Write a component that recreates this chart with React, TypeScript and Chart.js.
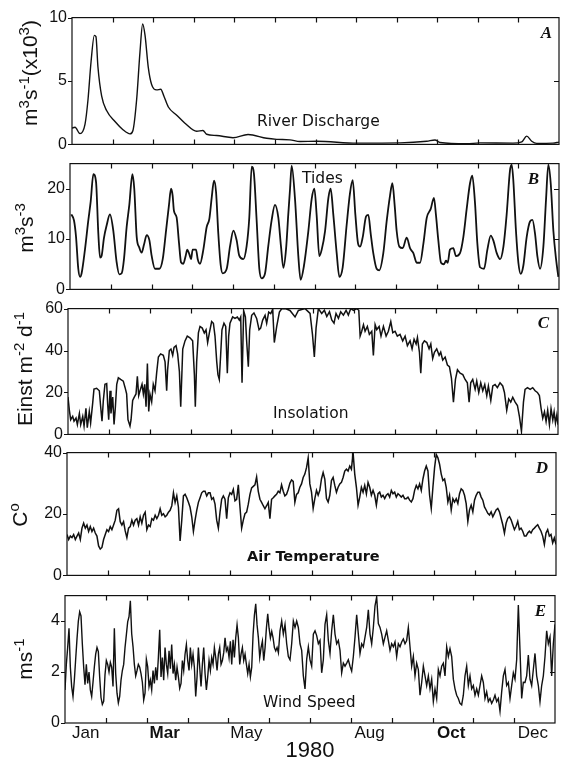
import React, { useEffect, useRef } from 'react';
import { Chart, registerables } from 'chart.js';

Chart.register(...registerables);

// ---------- axis data ----------
const monthTickDays = [30.5, 61, 91.5, 122, 152.5, 183, 213.5, 244, 274.5, 305, 335.5];
const monthLabels = ['Jan', 'Mar', 'May', 'Aug', 'Oct', 'Dec'];
const monthLabelDays = [15.5, 74.5, 135.5, 227.5, 288.5, 349.5];
const monthLabelBold = [false, true, false, false, true, false];
const yearLabel = '1980';

// ---------- A: river discharge (m3 s-1 x 10^3) ----------
const riverDays = [0, 2.3, 6, 9.8, 12, 14.3, 16.8, 18, 19.5, 22.3, 26, 32.3, 38.3, 43.6, 45.8, 48.6, 51.1, 53.1, 54.9, 57.3, 59.9, 63.6, 66.7, 69.1, 72.4, 78.7, 84.9, 93.7, 98.4, 101.2, 108.7, 121, 132.3, 146.3, 153.8, 163.8, 171.3, 184, 214, 246.5, 266.6, 272.8, 276.6, 296.6, 306.6, 331.4, 338, 341.7, 345.5, 349.2, 361.5, 366];
const riverValues = [1.29, 1.35, 0.85, 1.6, 3.5, 6.5, 8.6, 8.5, 6.1, 3.8, 2.67, 1.8, 1.16, 0.83, 1.1, 3.56, 7.3, 9.5, 8.6, 6.1, 4.7, 4.3, 4.35, 3.8, 2.95, 2.3, 1.67, 1.04, 1.1, 0.8, 0.7, 0.53, 0.78, 0.48, 0.4, 0.36, 0.23, 0.25, 0.1, 0.12, 0.25, 0.35, 0.15, 0.05, 0.12, 0.1, 0.2, 0.65, 0.25, 0.08, 0.1, 0.18];

// ---------- B: tides (m3 s-3) ----------
const tideDays = [1, 3.0, 4.5, 6.2, 7.5, 8.7, 11.2, 13.7, 15.5, 17.5,
  19.5, 21.2, 22.5, 23.7, 25.4, 27.4, 29.9, 32.4, 34.9, 36.9,
  38.7, 40.4, 42.4, 44.4, 46.7, 48.1, 49.9, 51.9, 53.6, 55.4,
  57.4, 59.4, 61.1, 63.6, 66.9, 69.4, 71.9, 74.1, 75.6, 76.8,
  77.8, 79.8, 81.6, 83.1, 84.8, 86.6, 87.8, 89.3, 90.6, 91.8,
  94.3, 95.6, 97.3, 99.8, 102.3, 104.3, 106.0, 107.8, 109.3, 111.0,
  112.8, 114.3, 117.3, 119.8, 122.3, 124.7, 126.7, 129.7, 132.2, 134.2,
  136.0, 137.7, 139.7, 141.7, 143.5, 146.0, 148.4, 150.9, 153.4, 155.9,
  157.9, 159.7, 161.7, 163.4, 164.7, 165.9, 168.4, 170.9, 172.6, 175.1,
  178.4, 180.9, 182.9, 184.6, 186.6, 188.4, 190.9, 193.4, 195.1, 197.1,
  199.6, 201.6, 204.1, 207.1, 209.6, 211.6, 213.6, 215.6, 217.1, 219.1,
  221.6, 223.3, 225.1, 227.0, 229.5, 231.5, 234.5, 237.0, 239.5, 241.3,
  243.0, 244.5, 246.5, 249.0, 252.0, 254.5, 257.0, 259.5, 262.0, 264.5,
  267.0, 270.0, 272.4, 273.9, 275.7, 277.7, 279.9, 281.4, 282.7, 284.4,
  286.9, 288.9, 291.9, 294.4, 296.9, 299.4, 301.1, 303.1, 304.9, 306.9,
  309.9, 312.4, 314.9, 316.9, 319.4, 321.9, 324.4, 326.8, 329.3, 330.6,
  331.8, 333.8, 335.6, 337.3, 339.3, 341.8, 344.3, 346.1, 348.1, 349.8,
  351.8, 354.3, 356.3, 358.0, 359.8, 361.8, 363.8, 365.5];
const tideValues = [14.9, 13.7, 10.5, 4.1, 2.5, 3.2, 7.9, 13.7, 17.5, 22.9,
  21.3, 11.1, 6.3, 6.7, 10.2, 12.7, 14.9, 11.7, 5.4, 3.0,
  3.2, 6.0, 12.4, 16.8, 22.9, 20, 10.5, 8.3, 7.3, 8.9,
  10.8, 9.8, 6.7, 4.1, 4.1, 6.0, 11.7, 16.8, 20, 18.7,
  15.6, 14.3, 9.2, 5.4, 5.1, 6.7, 7.9, 7.0, 6.0, 7.9,
  7.9, 6.0, 5.1, 7.9, 12.4, 14.0, 18.1, 21.6, 19.4, 11.1,
  4.8, 3.2, 4.1, 8.6, 11.7, 9.8, 6.7, 6.0, 8.6, 14.3,
  24.4, 22.9, 13.7, 4.1, 2.2, 3.2, 8.6, 13.7, 16.8, 14.3,
  8.6, 4.3, 8, 15, 20, 24.6, 18, 6.6, 1.9, 4.7,
  11.6, 18, 20, 14.8, 6.6, 7.9, 11.6, 18.2, 20, 14.8,
  7.2, 2.5, 4.4, 12.9, 19.2, 21.7, 14.8, 9.1, 8.5, 10.4,
  14.5, 14.8, 11, 7.2, 4.1, 3.8, 7.2, 13.5, 18.6, 21.1,
  16.7, 11.6, 8.5, 8.2, 10.3, 8.2, 7.2, 5.3, 5.3, 9.1,
  14.2, 16, 18.2, 14.8, 9.7, 5.3, 5, 5.7, 5.3, 7.9,
  8.2, 6.6, 7.2, 10.4, 16, 21.1, 22.6, 17.3, 9.1, 4.4,
  4.1, 7.9, 10.7, 9.7, 7.2, 6, 8.5, 14.8, 23.6, 24.8,
  21.7, 11.6, 5.3, 3.1, 4.7, 10.4, 13.5, 13.8, 11, 6.6,
  4.1, 8.5, 17.9, 24.8, 21.1, 11.6, 6, 2.5];

// ---------- C: insolation (Einst m-2 d-1) ----------
const insolationDays = [0, 1, 2, 3.5, 4.5, 6, 7, 8.5, 9.5, 11,
  12, 13.4, 14.4, 15.9, 16.9, 18.4, 19.4, 21.4, 23.4, 24.4,
  25.4, 26.4, 27.6, 28.9, 29.6, 30.4, 31.4, 32.1, 33.4, 34.4,
  35.4, 36.4, 37.6, 39.3, 41.3, 42.6, 43.8, 44.8, 46.3, 47.1,
  48.3, 49.5, 50.8, 51.8, 52.8, 53.8, 55.3, 56.3, 57.3, 58.3,
  59.3, 60.3, 61.2, 62.5, 63.7, 65, 66.2, 67.5, 69.2, 71.2,
  72.5, 73.7, 74.4, 75.7, 76.9, 78.2, 79.2, 80.7, 81.9, 83.2,
  84.2, 85.7, 87.4, 89.1, 91.1, 93.1, 94.4, 95.1, 96.1, 97.4,
  98.6, 100.3, 101.8, 103.1, 104.3, 105.6, 107.3, 108.6, 109.8, 111.1,
  112, 113, 114, 115, 116.5, 117.8, 119, 120, 121, 123,
  124.7, 126.5, 128, 129, 130, 131.2, 132.5, 133.5, 134.7, 135.7,
  137.2, 138.9, 140.9, 142.7, 143.9, 145.4, 147.2, 148.4, 149.9, 151.4,
  152.9, 154.1, 155.9, 157.9, 159.6, 162.8, 165.8, 169.6, 172.1,
  177.1, 180.8, 182.6, 184, 185.3, 187, 189.5, 191.5, 193.3, 195.3,
  197, 198.7, 200.2, 202, 203.7, 205.7, 207.7, 209.4, 211.2, 213.2,
  215.7, 217.2, 218.2, 219.4, 220.7, 221.9, 223.6, 225.1, 226.9, 228.1,
  229.4, 230.6, 232.4, 233.8, 235.6, 237.6, 239.3, 241.1, 242.6, 244.3,
  246, 248, 250, 251.8, 253.5, 255.5, 257, 258.5, 260, 261,
  262.5, 263.5, 264.7, 266.2, 268, 269.7, 271, 272.4, 273.7, 275.4,
  277.2, 278.4, 279.9, 281.7, 283.4, 284.9, 286.4, 287.9, 289.4, 290.9,
  292.9, 294.9, 296.6, 298.3, 299.6, 300.8, 302.3, 304.1, 305.3, 306.8,
  308.3, 309.8, 311.3, 312.8, 314, 315.8, 317.3, 319, 320.7, 322.7,
  324.7, 326, 327.7, 329.2, 330.7, 332.2, 334, 335.7, 337.2, 338.7,
  340.2, 341.4, 343.2, 345.2, 347.1, 348.9, 350.6, 352.1, 353.4, 354.6,
  355.9, 357.1, 358.3, 359.6, 360.8, 362.1, 363.1, 364.1, 365.1, 366];
const insolationValues = [17.8, 11.6, 7, 8.6, 6.3, 7.8, 4.7, 10, 4.7, 8.6,
  4, 12.4, 3.2, 10.9, 5.5, 14.7, 21.6, 22, 20.8, 13.2,
  6.3, 16.2, 23.9, 24.2, 14.7, 7, 20.8, 10, 17.8, 4.7,
  13.2, 23.9, 27, 26.2, 25.4, 22.4, 19.3, 7, 4, 7,
  16.2, 17.8, 19.3, 27.7, 18.5, 20.8, 23.9, 19.3, 23.9, 13.2,
  33.8, 10.9, 19.3, 15.5, 23.9, 20.8, 29.2, 36.9, 38.4, 37.7,
  34.6, 20.8, 30.8, 40, 40.7, 37.7, 41.5, 42.3, 38.4, 30,
  13.2, 40.7, 44.6, 46.9, 46.1, 44.6, 28.5, 13.2, 34.6, 48.4,
  51.5, 50.7, 48.4, 49.9, 43.8, 48.4, 53.8, 53, 46.9, 34.6,
  28.5, 26.2, 37.7, 49.9, 53, 51.5, 29.2, 46.9, 53, 56,
  55.3, 56, 54.5, 56, 24.7, 59, 56, 43.8, 32.3, 49.9,
  56.8, 57.9, 55.3, 49.9, 50.7, 54.5, 56.8, 53, 58.3, 57.6,
  59.6, 43.8, 51.5, 58.3, 59.9, 59.9, 59.1, 56, 59.1,
  60, 57.7, 47.7, 36.9, 50.8, 60, 57.7, 59.2, 56.2, 58.5,
  54.6, 53.1, 57.7, 55.4, 58.5, 56.9, 59.2, 56.9, 60, 59.2,
  60, 59.2, 46.9, 49.2, 52.3, 49.2, 51.5, 47.7, 49.2, 37.7,
  52.3, 50, 51.5, 46.9, 51.5, 46.9, 49.2, 53.8, 48.5, 49.2,
  46.9, 47.7, 44.6, 46.9, 42.3, 44.6, 40.8, 45.4, 43.1, 46.2,
  39.2, 29.2, 43.1, 44.6, 43.8, 40.8, 43.1, 36.2, 39.2, 40.8,
  37.7, 39.2, 35.4, 36.9, 33.1, 32.3, 26.9, 15.4, 26.2, 30.8,
  29.2, 28.5, 26.2, 24.6, 15.4, 24.6, 26.2, 21.5, 25.4, 20,
  24.6, 20.8, 23.8, 18.5, 23.1, 16.2, 23.1, 23.8, 22.3, 24.6,
  23.1, 20, 11.5, 16.9, 15.4, 17.7, 15.4, 13.8, 8.5, 1.5,
  15.4, 21.5, 22.3, 21.5, 22.3, 20.8, 20, 18.5, 12.3, 7.7,
  10.8, 6.2, 11.5, 4.6, 12.3, 6.9, 10.8, 5.4, 9.2, 4.6];

// ---------- D: air temperature (C), evenly spaced through the year ----------
const airTempValues = [13.3, 11.7, 12.8, 12.3, 13.3, 11.7, 12.8, 13.8, 11.7, 15.4,
  17, 15.4, 16.4, 14.3, 15.9, 14.3, 15.4, 13.8, 12.8, 9.6,
  8.6, 9.1, 11.7, 13.3, 14.9, 14.3, 15.9, 14.9, 16.4, 18,
  21.2, 21.7, 17.5, 16.4, 17.5, 14.5, 12.3, 15.4, 15.9, 18,
  16.4, 18, 18.5, 16.4, 19.1, 17, 19.6, 20.6, 14.9, 16.4,
  15.9, 18.5, 18, 19.6, 18.5, 19.6, 21.7, 19.6, 20.1, 19.1,
  19.6, 20.6, 21.2, 22.7, 26.9, 23.8, 25.9, 22.2, 11.2, 18,
  25.9, 26.4, 25.3, 23.8, 22.2, 19.1, 14.3, 18, 21.2, 23.8,
  25.3, 26.9, 27.4, 27.4, 25.9, 26.9, 26.9, 24.8, 25.3, 23.2,
  18, 15.4, 20.6, 24.8, 25.9, 24.8, 18.5, 25.3, 26.9, 26.4,
  28, 24.3, 24.8, 29.5, 22.2, 15.4, 18, 20.1, 20.6, 23.2,
  26.4, 28.5, 29, 29.5, 32.1, 27.4, 24.8, 23.8, 22.7, 21.7,
  22.7, 23.8, 18.5, 24.8, 25.3, 25.9, 26.4, 27.4, 26.9, 29.5,
  27.4, 25.9, 26.4, 28, 30, 31.1, 30.6, 23.8, 26.4, 26.9,
  28.7, 29.8, 31.9, 33, 35.1, 38.3, 29.8, 27.1, 21.8, 25,
  27.7, 26.1, 27.7, 31.4, 33.5, 31.4, 25, 23.9, 26.1, 30.9,
  31.9, 29.3, 27.1, 28.7, 29.8, 30.3, 31.9, 34, 34.6, 34,
  35.6, 34.6, 40, 33, 28.7, 22.9, 25.5, 28.7, 27.1, 29.3,
  26.6, 30.3, 28.7, 26.1, 27.7, 26.1, 22.9, 26.6, 27.1, 25.5,
  26.1, 25, 26.1, 26.6, 25.5, 27.7, 26.6, 27.1, 25.5, 26.6,
  26.1, 25.5, 26.1, 25, 25, 25.5, 24.5, 23.9, 25, 27.7,
  29.3, 28.2, 29.8, 27.7, 31.4, 34, 35.6, 34, 26.1, 21.8,
  28.7, 35.1, 39.4, 38.3, 36.2, 33, 30.9, 31.4, 28.7, 23.9,
  26.1, 21.3, 25, 23.9, 25, 23.4, 26.6, 28.2, 27.7, 26.1,
  23.4, 17.6, 21.3, 22.9, 20.7, 24.5, 26.1, 27.1, 27.1, 25.5,
  24.5, 22.3, 21.3, 20.2, 19.7, 20.7, 19.1, 20.2, 21.3, 21.8,
  20.7, 18.6, 16.5, 13.8, 17, 18.6, 19.1, 18.1, 16.5, 14.9,
  16, 17.6, 14.9, 15.4, 14.4, 12.8, 12.8, 13.8, 14.4, 13.8,
  14.9, 15.4, 16, 16.5, 15.4, 14.4, 12.8, 10.1, 13.8, 14.9,
  12.8, 13.3, 10.6, 12.2, 10.1];

// ---------- E: wind speed (m s-1) ----------
// about one value per day, 1 Jan to early June
const windValuesJanJun = [1.3, 2.3, 2.96, 3.72, 2.2, 1.43, 1.04, 1.68, 2.5, 3.3,
  4.0, 4.36, 4.2, 3.1, 2.2, 1.5, 2.3, 1.55, 2.0, 1.3,
  1.04, 1.6, 2.2, 2.7, 2.96, 2.8, 1.8, 1.0, 0.73, 0.85,
  1.9, 2.45, 2.3, 2.0, 2.38, 2.19, 1.43, 3.72, 1.94, 1.17,
  0.79, 1.04, 1.68, 2.06, 2.3, 2.96, 3.46, 3.97, 4.17, 4.8,
  3.5, 3.0, 2.3, 1.85, 2.06, 2.3, 2.19, 1.94, 1.6, 0.9,
  1.17, 2.5, 2.2, 1.43, 1.68, 1.3, 2.06, 1.55, 2.19, 1.68,
  2.57, 3.66, 1.81, 2.57, 1.68, 2.96, 2.3, 1.94, 2.83, 2.13,
  3.08, 1.94, 2.3, 1.68, 2.19, 1.81, 1.36, 1.55, 2.45, 2.06,
  2.7, 3.08, 2.45, 2.06, 2.96, 2.3, 2.7, 2.19, 1.04, 1.81,
  2.96, 2.19, 1.43, 2.3, 2.96, 1.94, 1.3, 1.81, 2.45, 2.06,
  2.57, 2.3, 2.96, 2.57, 2.06, 2.7, 2.96, 2.3, 2.45, 2.76,
  3.34, 2.83, 2.96, 2.57, 3.21, 2.3, 3.27, 2.57, 3.34, 3.85,
  3.34, 2.3, 2.7, 2.96, 2.45, 2.7, 2.3, 1.94, 2.3, 1.81,
  2.19, 3.46, 4.23, 4.68, 3.85, 3.34, 2.57, 2.96, 3.21, 2.45,
  2.96, 3.72, 4.29, 3.72, 3.34, 3.59, 3.34, 2.96, 2.83, 2.96,
  2.76];
// early June to 31 Dec
const windValuesJunDec = [3.62, 4.0, 3.49, 3.87, 3.11, 2.61, 2.48, 3.11, 4.0, 3.75,
  4.0, 3.75, 3.11, 2.85, 1.85, 1.34, 2.5, 2.99, 2.48, 2.23,
  3.49, 3.62, 3.43, 3.11, 3.24, 1.97, 2.48, 3.87, 4.25, 3.24,
  2.73, 3.62, 4.25, 3.49, 3.11, 3.24, 2.85, 1.97, 2.35, 2.23,
  2.35, 2.48, 2.23, 2.04, 2.61, 3.37, 4.25, 3.49, 2.73, 3.11,
  2.99, 3.37, 3.75, 4.44, 3.49, 3.11, 3.75, 4.6, 4.95, 3.9,
  3.75, 3.49, 3.11, 3.37, 3.62, 3.24, 2.85, 3.11, 2.99, 3.18,
  2.61, 3.11, 2.99, 3.18, 3.3, 3.11, 3.24, 3.75, 2.99, 2.23,
  2.61, 1.85, 2.35, 2.1, 1.09, 1.59, 2.23, 1.85, 1.47, 1.85,
  1.34, 1.72, 0.84, 1.34, 0.96, 2.1, 1.85, 2.23, 2.35, 1.85,
  2.99, 2.61, 2.92, 2.61, 1.72, 1.34, 1.09, 0.96, 0.77, 0.71,
  1.09, 1.85, 2.23, 1.47, 1.85, 1.34, 1.47, 1.09, 1.34, 1.09,
  1.47, 1.85, 1.59, 0.96, 1.22, 0.84, 0.96, 0.77, 0.9, 1.09,
  0.84, 0.96, 0.46, 1.22, 1.85, 2.1, 1.47, 1.59, 0.96, 1.47,
  1.97, 1.72, 2.48, 4.63, 2.86, 0.96, 1.6, 1.59, 1.85, 2.67,
  1.72, 1.47, 2.1, 2.73, 1.85, 1.47, 0.84, 1.47, 1.85, 2.61,
  3.62, 3.11, 3.37, 1.85, 3.11, 3.87];

// ---------- y-axis tick values and titles ----------
const riverTicks = [0, 5, 10];
const tideTicks = [0, 10, 20];
const insolationTicks = [0, 20, 40, 60];
const airTempTicks = [0, 20, 40];
const windTicks = [0, 2, 4];

type Seg = [string, boolean];
const riverTitle: Seg[] = [['m', false], ['3', true], ['s', false], ['-1', true], ['(x10', false], ['3', true], [')', false]];
const tideTitle: Seg[] = [['m', false], ['3', true], ['s', false], ['-3', true]];
const insolationTitle: Seg[] = [['Einst m', false], ['-2', true], [' d', false], ['-1', true]];
const airTempTitle: Seg[] = [['C', false], ['o', true]];
const windTitle: Seg[] = [['ms', false], ['-1', true]];

// ---------- helpers ----------
const zip = (xs: number[], ys: number[]) => xs.map((x, i) => ({ x, y: ys[i] }));
const spread = (values: number[], start: number, end: number) => {
  const step = (end - start) / (values.length - 1);
  return values.map((v, i) => ({ x: start + i * step, y: v }));
};

const SANS = "'Liberation Sans', Arial, Helvetica, sans-serif";
const LABEL_SANS = "'DejaVu Sans', 'Liberation Sans', sans-serif";
const SERIF = "'Liberation Serif', 'Times New Roman', serif";
const INK = '#111';
const YAXIS_W = 45;
const PAD = 12;
const PAGE_W = 565;
const PAGE_H = 762;
const XAXIS_H = 39;

type Panel = {
  top: number; bottom: number; left: number; right: number;
  yMax: number; yTicks: number[];
  points: { x: number; y: number }[];
  smooth: boolean; lineWidth: number;
  title: Seg[]; titleX: number; titleY: number;
  label: string; labelX: number; labelY: number; labelBold: boolean;
  letter: string; letterX: number; letterY: number;
  isBottom: boolean;
};

const panels: Panel[] = [
  {
    top: 15, bottom: 147, left: 72, right: 559, yMax: 10, yTicks: riverTicks,
    points: zip(riverDays, riverValues), smooth: true, lineWidth: 1.4,
    title: riverTitle, titleX: 37, titleY: 73,
    label: 'River Discharge', labelX: 257, labelY: 126, labelBold: false,
    letter: 'A', letterX: 552, letterY: 38, isBottom: false,
  },
  {
    top: 161, bottom: 292, left: 70, right: 559, yMax: 25, yTicks: tideTicks,
    points: zip(tideDays, tideValues), smooth: true, lineWidth: 1.8,
    title: tideTitle, titleX: 33, titleY: 228,
    label: 'Tides', labelX: 302, labelY: 183, labelBold: false,
    letter: 'B', letterX: 539, letterY: 184, isBottom: false,
  },
  {
    top: 306, bottom: 437, left: 68, right: 558, yMax: 60, yTicks: insolationTicks,
    points: zip(insolationDays, insolationValues), smooth: false, lineWidth: 1.5,
    title: insolationTitle, titleX: 32, titleY: 369,
    label: 'Insolation', labelX: 273, labelY: 418, labelBold: false,
    letter: 'C', letterX: 549, letterY: 328, isBottom: false,
  },
  {
    top: 450, bottom: 578, left: 67, right: 556, yMax: 40, yTicks: airTempTicks,
    points: spread(airTempValues, 0, 366), smooth: false, lineWidth: 1.5,
    title: airTempTitle, titleX: 27, titleY: 515,
    label: 'Air Temperature', labelX: 247, labelY: 561, labelBold: true,
    letter: 'D', letterX: 548, letterY: 473, isBottom: false,
  },
  {
    top: 593, bottom: 723, left: 65, right: 555, yMax: 5, yTicks: windTicks,
    points: [...spread(windValuesJanJun, 0, 159.4), ...spread(windValuesJunDec, 160.6, 366)],
    smooth: false, lineWidth: 1.4,
    title: windTitle, titleX: 32, titleY: 659,
    label: 'Wind Speed', labelX: 263, labelY: 707, labelBold: false,
    letter: 'E', letterX: 546, letterY: 616, isBottom: true,
  },
];

const canvasTop = (p: Panel) => p.top - PAD;
const canvasHeight = (p: Panel) => (p.isBottom ? PAGE_H - canvasTop(p) : p.bottom - p.top + 2 * PAD);

function drawRotatedRich(ctx: CanvasRenderingContext2D, segs: Seg[], baseX: number, centerY: number, size: number) {
  ctx.save();
  ctx.translate(baseX, centerY);
  ctx.rotate(-Math.PI / 2);
  ctx.textBaseline = 'alphabetic';
  ctx.textAlign = 'left';
  const supSize = Math.round(size * 0.72);
  const widths = segs.map(([t, sup]) => {
    ctx.font = `${sup ? supSize : size}px ${SANS}`;
    return ctx.measureText(t).width;
  });
  const total = widths.reduce((a, b) => a + b, 0);
  let u = -total / 2;
  segs.forEach(([t, sup], i) => {
    ctx.font = `${sup ? supSize : size}px ${SANS}`;
    ctx.fillText(t, u, sup ? -size * 0.4 : 0);
    u += widths[i];
  });
  ctx.restore();
}

function makeDecor(p: Panel) {
  const off = canvasTop(p);
  return {
    id: 'decor' + p.letter,
    afterDatasetsDraw(chart: any) {
      const { ctx, chartArea: a, scales } = chart;
      const xs = scales.x;
      const ys = scales.y;
      ctx.save();
      ctx.strokeStyle = INK;
      ctx.lineWidth = 1.2;
      ctx.strokeRect(a.left, a.top, a.right - a.left, a.bottom - a.top);
      ctx.beginPath();
      monthTickDays.forEach((d) => {
        const px = Math.round(xs.getPixelForValue(d)) + 0.5;
        ctx.moveTo(px, a.top);
        ctx.lineTo(px, a.top + 5);
        ctx.moveTo(px, a.bottom);
        ctx.lineTo(px, a.bottom - 5);
      });
      p.yTicks.forEach((v) => {
        const py = Math.round(ys.getPixelForValue(v)) + 0.5;
        ctx.moveTo(a.left - 4, py);
        ctx.lineTo(a.left, py);
        if (v !== p.yTicks[0] && v !== p.yMax) {
          ctx.moveTo(a.right, py);
          ctx.lineTo(a.right - 5, py);
        }
      });
      ctx.stroke();

      ctx.fillStyle = INK;
      // axis title
      drawRotatedRich(ctx, p.title, p.titleX, p.titleY - off, 21);
      // inner label
      ctx.textAlign = 'left';
      ctx.textBaseline = 'alphabetic';
      ctx.font = p.labelBold ? `bold 14.5px ${LABEL_SANS}` : `15.5px ${LABEL_SANS}`;
      ctx.fillText(p.label, p.labelX, p.labelY - off);
      // panel letter
      ctx.textAlign = 'right';
      ctx.font = `italic bold 17px ${SERIF}`;
      ctx.fillText(p.letter, p.letterX, p.letterY - off);
      ctx.restore();
    },
  };
}

export default function App() {
  const canvasRefs = useRef<(HTMLCanvasElement | null)[]>([]);

  useEffect(() => {
    const charts: Chart[] = [];
    panels.forEach((p, i) => {
      const canvas = canvasRefs.current[i];
      if (!canvas) return;
      const h = canvasHeight(p);
      const chart = new Chart(canvas, {
        type: 'line',
        data: {
          datasets: [
            {
              data: p.points,
              borderColor: INK,
              borderWidth: p.lineWidth,
              pointRadius: 0,
              fill: false,
              cubicInterpolationMode: p.smooth ? 'monotone' : 'default',
              tension: 0,
            } as any,
          ],
        },
        options: {
          animation: false,
          responsive: false,
          maintainAspectRatio: false,
          devicePixelRatio: 1,
          events: [],
          layout: {
            padding: {
              top: PAD,
              left: p.left - YAXIS_W,
              right: PAGE_W - p.right,
              bottom: p.isBottom ? h - (p.bottom - canvasTop(p)) - XAXIS_H : PAD,
            },
          },
          plugins: { legend: { display: false }, tooltip: { enabled: false } },
          scales: {
            x: {
              type: 'linear',
              min: 0,
              max: 366,
              display: p.isBottom,
              grid: { display: false, drawTicks: false },
              border: { display: false },
              afterBuildTicks: (s: any) => {
                s.ticks = monthLabelDays.map((v) => ({ value: v }));
              },
              afterFit: (s: any) => {
                s.height = p.isBottom ? XAXIS_H : 0;
              },
              ticks: {
                autoSkip: false,
                maxRotation: 0,
                minRotation: 0,
                padding: 2,
                color: INK,
                callback: (_v: any, idx: number) => monthLabels[idx],
                font: (c: any) => ({
                  family: SANS,
                  size: 17,
                  lineHeight: 1,
                  weight: monthLabelBold[c.index] ? 'bold' : 'normal',
                }),
              },
              title: {
                display: p.isBottom,
                text: yearLabel,
                color: INK,
                font: { family: SANS, size: 22, lineHeight: 1 },
                padding: { top: 0, bottom: 0 },
              },
            } as any,
            y: {
              type: 'linear',
              min: 0,
              max: p.yMax,
              grid: { display: false, drawTicks: false },
              border: { display: false },
              afterBuildTicks: (s: any) => {
                s.ticks = p.yTicks.map((v) => ({ value: v }));
              },
              afterFit: (s: any) => {
                s.width = YAXIS_W;
              },
              ticks: {
                padding: 5,
                color: INK,
                font: { family: SANS, size: 16 },
              },
            } as any,
          },
        },
        plugins: [makeDecor(p)],
      });
      charts.push(chart);
    });
    return () => charts.forEach((c) => c.destroy());
  }, []);

  return (
    <div style={{ position: 'absolute', left: 0, top: 0, width: PAGE_W, height: PAGE_H, background: '#fff' }}>
      {panels.map((p, i) => (
        <canvas
          key={p.letter}
          ref={(el) => {
            canvasRefs.current[i] = el;
          }}
          width={PAGE_W}
          height={canvasHeight(p)}
          style={{ position: 'absolute', left: 0, top: canvasTop(p), width: PAGE_W, height: canvasHeight(p) }}
        />
      ))}
    </div>
  );
}
